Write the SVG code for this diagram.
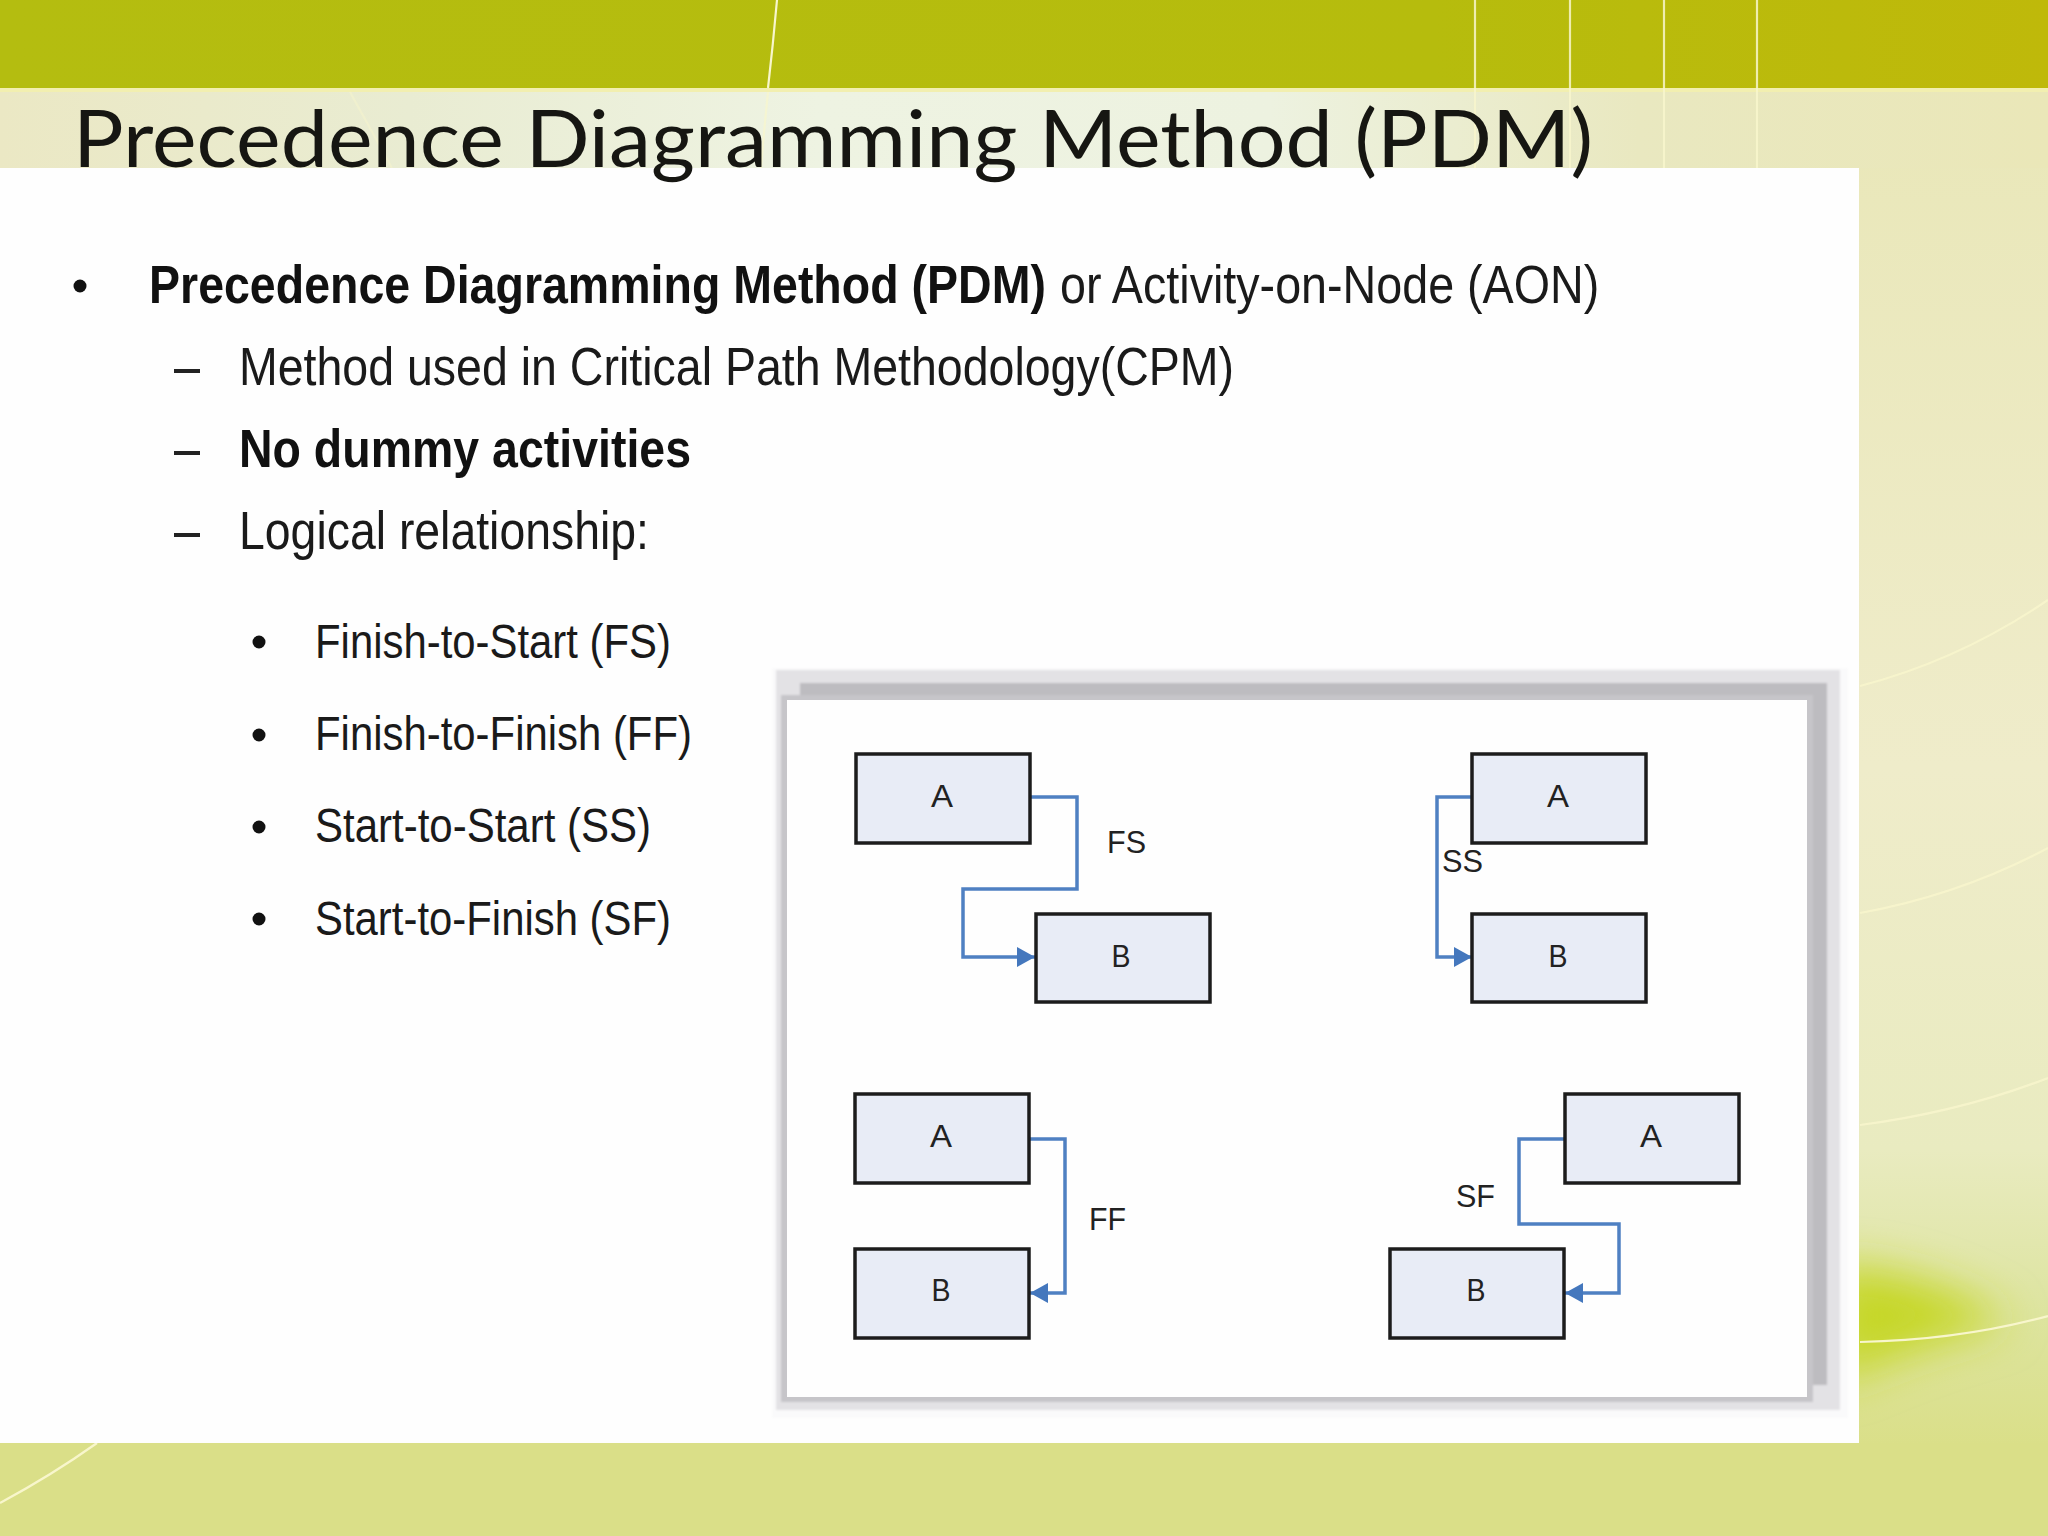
<svg xmlns="http://www.w3.org/2000/svg" width="2048" height="1536" viewBox="0 0 2048 1536">
<style>
.title{font-family:"Lato","Open Sans",sans-serif;font-size:80px;fill:#161612}
.body{font-family:"Liberation Sans",Arial,sans-serif;font-size:54px;fill:#1a1a1a}
.sub{font-family:"Liberation Sans",Arial,sans-serif;font-size:49px;fill:#1a1a1a}
.b{font-weight:bold;fill:#111}
.box{fill:#e8ecf6;stroke:#1c1c1c;stroke-width:3.5}
.lab{font-family:"Liberation Sans",Arial,sans-serif;font-size:32px;fill:#222}
.c{text-anchor:middle}
.conn{fill:none;stroke:#4f80c2;stroke-width:3.5}
.deco{fill:none;stroke:#f8f6cc;stroke-width:2.2}
</style>
<defs>
<linearGradient id="topBand" x1="0" x2="1" y1="0" y2="0"><stop offset="0" stop-color="#b4bd10"/><stop offset="0.7" stop-color="#b6bc0d"/><stop offset="1" stop-color="#bfb90a"/></linearGradient>
<linearGradient id="lightBand" x1="0" x2="1" y1="0" y2="0"><stop offset="0" stop-color="#ebe8c4"/><stop offset="0.2" stop-color="#e9ecd2"/><stop offset="0.4" stop-color="#eef3e2"/><stop offset="0.62" stop-color="#edf2e0"/><stop offset="0.8" stop-color="#e9e8c0"/><stop offset="1" stop-color="#eae7b8"/></linearGradient>
<linearGradient id="rightPanel" x1="0" x2="0" y1="0" y2="1"><stop offset="0" stop-color="#e9e7b8"/><stop offset="0.5" stop-color="#efecca"/><stop offset="0.78" stop-color="#e9ebc0"/><stop offset="0.9" stop-color="#dde4a0"/><stop offset="1" stop-color="#dadf88"/></linearGradient>
<filter id="soft" x="-60%" y="-100%" width="220%" height="300%"><feGaussianBlur stdDeviation="22"/></filter>
<filter id="edge" x="-2%" y="-2%" width="104%" height="104%"><feGaussianBlur stdDeviation="1.2"/></filter>
<marker id="arrow" markerUnits="userSpaceOnUse" markerWidth="20" markerHeight="22" refX="18" refY="11" orient="auto"><path d="M0 1L18 11L0 21Z" fill="#4477bd"/></marker>
</defs>

<g id="background">
<rect width="2048" height="1536" fill="#dadf88"/>
<rect y="88" width="2048" height="1360" fill="url(#rightPanel)"/>
<path d="M1830 1265Q1930 1270 2010 1322Q1930 1340 1830 1385Z" fill="#c6d728" filter="url(#soft)"/>
<rect y="92" width="2048" height="76" fill="url(#lightBand)"/>
<rect y="1443" width="2048" height="93" fill="#dadf88"/>
<rect width="2048" height="88" fill="url(#topBand)"/>
<rect y="88" width="2048" height="4" fill="#f2efb0"/>
<path class="deco" d="M777 0Q773 45 768 88"/>
<path class="deco" d="M768 92Q764 130 761 168" stroke-opacity="0.7"/>
<path class="deco" d="M350 92L392 168" stroke-opacity="0.45"/>
<path class="deco" d="M1475 0V168" stroke-opacity="0.85"/>
<path class="deco" d="M1570 0V168" stroke-opacity="0.85"/>
<path class="deco" d="M1664 0V168" stroke-opacity="0.85"/>
<path class="deco" d="M1757 0V168" stroke-opacity="0.85"/>
<path class="deco" d="M1860 686Q1960 660 2048 600" stroke-opacity="0.85"/>
<path class="deco" d="M1860 913Q1960 895 2048 848" stroke-opacity="0.85"/>
<path class="deco" d="M1860 1125Q1960 1112 2048 1078" stroke-opacity="0.85"/>
<path class="deco" d="M1860 1342Q1960 1340 2048 1316"/>
<path class="deco" d="M0 1503Q52 1475 97 1443"/>
<rect y="168" width="1859" height="1275" fill="#fefefe"/>
</g>

<g id="title"><text class="title" x="73" y="167" textLength="1520" lengthAdjust="spacingAndGlyphs">Precedence Diagramming Method (PDM)</text></g>

<g id="bullets">
<circle cx="80" cy="286" r="6.5" fill="#111"/>
<rect x="174" y="369" width="26" height="4" fill="#222"/>
<rect x="174" y="451" width="26" height="4" fill="#222"/>
<rect x="174" y="533" width="26" height="4" fill="#222"/>
<circle cx="259" cy="642" r="6.5" fill="#111"/>
<circle cx="259" cy="735" r="6.5" fill="#111"/>
<circle cx="259" cy="827" r="6.5" fill="#111"/>
<circle cx="259" cy="919" r="6.5" fill="#111"/>
<text class="body b" transform="translate(149 303) scale(.8616 1)">Precedence Diagramming Method (PDM)</text>
<text class="body" transform="translate(1060 303) scale(.864 1)">or Activity-on-Node (AON)</text>
<text class="body" x="239" y="385" textLength="995" lengthAdjust="spacingAndGlyphs">Method used in Critical Path Methodology(CPM)</text>
<text class="body b" x="239" y="467" textLength="452" lengthAdjust="spacingAndGlyphs">No dummy activities</text>
<text class="body" x="239" y="549" textLength="410" lengthAdjust="spacingAndGlyphs">Logical relationship:</text>
<text class="sub" x="315" y="658" textLength="356" lengthAdjust="spacingAndGlyphs">Finish-to-Start (FS)</text>
<text class="sub" x="315" y="750" textLength="377" lengthAdjust="spacingAndGlyphs">Finish-to-Finish (FF)</text>
<text class="sub" x="315" y="842" textLength="336" lengthAdjust="spacingAndGlyphs">Start-to-Start (SS)</text>
<text class="sub" x="315" y="935" textLength="356" lengthAdjust="spacingAndGlyphs">Start-to-Finish (SF)</text>
</g>

<g id="frame">
<g filter="url(#edge)">
<rect x="772" y="668" width="1076" height="750" fill="#fafafb"/>
<rect x="776" y="670" width="1064" height="740" fill="#e3e2e5"/>
<rect x="800" y="683" width="1027" height="702" fill="#bdbcc0"/>
<rect x="781" y="695" width="1032" height="707" fill="#c6c5c9"/>
</g>
<rect x="787" y="700" width="1020" height="697" fill="#fefefe"/>
</g>

<g id="connectors">
<path class="conn" d="M1030 797H1077V889H963V957H1035" marker-end="url(#arrow)"/>
<path class="conn" d="M1472 797H1437V957H1472" marker-end="url(#arrow)"/>
<path class="conn" d="M1029 1139H1065V1293H1030" marker-end="url(#arrow)"/>
<path class="conn" d="M1565 1139H1519V1224H1619V1293H1565" marker-end="url(#arrow)"/>
</g>

<g id="fs-a"><rect class="box" x="856" y="754" width="174" height="89"/><text class="lab c" x="942" y="807" textLength="22" lengthAdjust="spacingAndGlyphs">A</text></g>
<g id="fs-b"><rect class="box" x="1036" y="914" width="174" height="88"/><text class="lab c" x="1121" y="967" textLength="19" lengthAdjust="spacingAndGlyphs">B</text></g>
<g id="ss-a"><rect class="box" x="1472" y="754" width="174" height="89"/><text class="lab c" x="1558" y="807" textLength="22" lengthAdjust="spacingAndGlyphs">A</text></g>
<g id="ss-b"><rect class="box" x="1472" y="914" width="174" height="88"/><text class="lab c" x="1558" y="967" textLength="19" lengthAdjust="spacingAndGlyphs">B</text></g>
<g id="ff-a"><rect class="box" x="855" y="1094" width="174" height="89"/><text class="lab c" x="941" y="1147" textLength="22" lengthAdjust="spacingAndGlyphs">A</text></g>
<g id="ff-b"><rect class="box" x="855" y="1249" width="174" height="89"/><text class="lab c" x="941" y="1301" textLength="19" lengthAdjust="spacingAndGlyphs">B</text></g>
<g id="sf-a"><rect class="box" x="1565" y="1094" width="174" height="89"/><text class="lab c" x="1651" y="1147" textLength="22" lengthAdjust="spacingAndGlyphs">A</text></g>
<g id="sf-b"><rect class="box" x="1390" y="1249" width="174" height="89"/><text class="lab c" x="1476" y="1301" textLength="19" lengthAdjust="spacingAndGlyphs">B</text></g>

<g id="labels">
<text class="lab" x="1107" y="853" textLength="39" lengthAdjust="spacingAndGlyphs">FS</text>
<text class="lab" x="1442" y="872" textLength="41" lengthAdjust="spacingAndGlyphs">SS</text>
<text class="lab" x="1089" y="1230" textLength="37" lengthAdjust="spacingAndGlyphs">FF</text>
<text class="lab" x="1456" y="1207" textLength="39" lengthAdjust="spacingAndGlyphs">SF</text>
</g>
</svg>
